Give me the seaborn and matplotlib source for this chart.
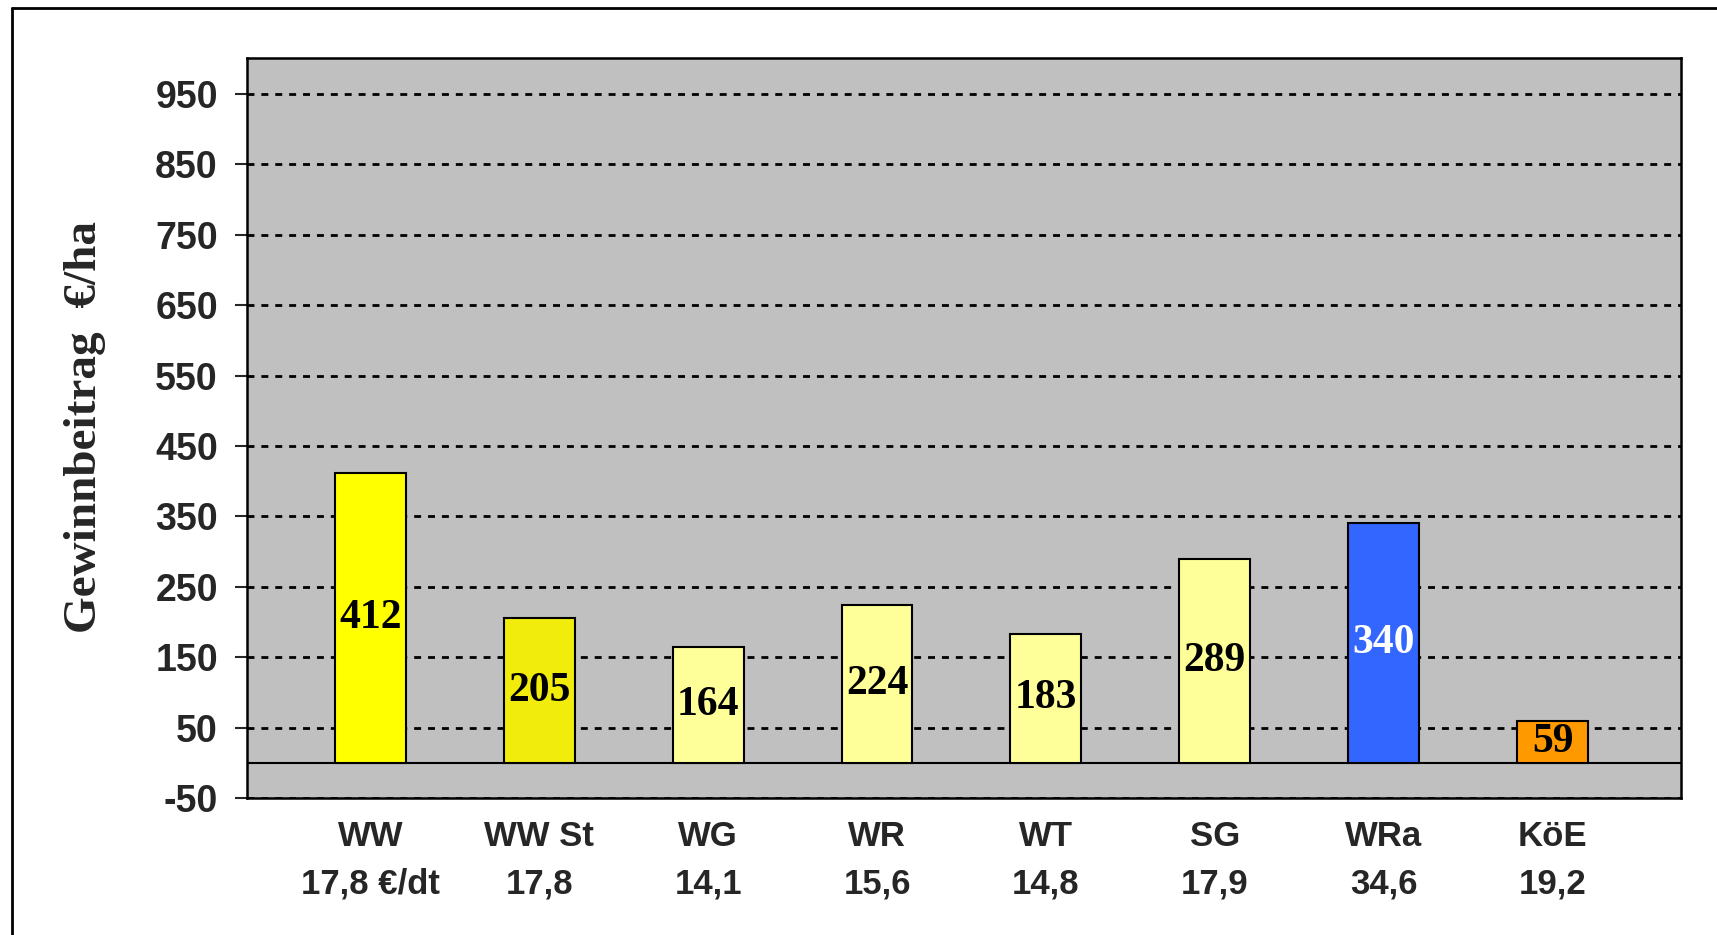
# -*- coding:utf-8 -*-
import matplotlib as mpl
mpl.use("Agg")
import matplotlib.pyplot as plt
import seaborn as sns
from matplotlib.lines import Line2D

crops = ["WW", "WW St", "WG", "WR", "WT", "SG", "WRa", "KöE"]
prices = ["17,8 €/dt", "17,8", "14,1", "15,6", "14,8", "17,9", "34,6", "19,2"]
gewinn = [412, 205, 164, 224, 183, 289, 340, 59]
bar_colors = ["#FFFF00", "#F2EC0C", "#FFFF99", "#FFFF99", "#FFFF99", "#FFFF99", "#3366FF", "#FF9900"]
label_colors = ["black", "black", "black", "black", "black", "black", "white", "black"]
yticks = [-50, 50, 150, 250, 350, 450, 550, 650, 750, 850, 950]

sns.set_style("white")
plt.rcParams["font.family"] = ["Liberation Sans", "DejaVu Sans"]

fig = plt.figure(figsize=(17.17, 9.35), dpi=100)
ax = fig.add_axes([247 / 1717, 1 - 798 / 935, (1681 - 247) / 1717, (798 - 58) / 935])
ax.set_facecolor("#C0C0C0")

sns.barplot(x=crops, y=gewinn, hue=crops, palette=bar_colors, width=0.42, saturation=1,
            edgecolor="black", linewidth=1.5, legend=False, ax=ax, zorder=3)

for cont, col in zip(ax.containers, label_colors):
    ax.bar_label(cont, label_type="center", color=col, fontsize=30,
                 fontweight="bold", family=["Liberation Serif", "DejaVu Serif"])

ax.set_xlim(-0.73, 7.76)
ax.set_ylim(-50, 1001)
ax.set_yticks(yticks)
ax.set_yticklabels([str(t) for t in yticks], fontsize=27, fontweight="bold")
ax.set_xticks(range(len(crops)))
ax.set_xticklabels([c + "\n" + p for c, p in zip(crops, prices)],
                   fontsize=25, fontweight="bold", linespacing=1.55)
ax.tick_params(axis="y", length=9, width=1.5, pad=12, left=True, direction="out")
ax.tick_params(axis="x", length=0, pad=16)

ax.grid(axis="y", color="black", linestyle=(0, (2.5, 2.5)), linewidth=2.0, zorder=1)
ax.set_axisbelow(True)
ax.axhline(0, color="black", linewidth=1.5, zorder=2)
for s in ax.spines.values():
    s.set_color("black")
    s.set_linewidth(1.8)
ax.set_xlabel("")
ax.set_ylabel("")

fig.text(85 / 1717, 1 - 427 / 935, "Gewinnbeitrag  €/ha", rotation=90, ha="center",
         va="center", fontsize=34, fontweight="bold",
         family=["Liberation Serif", "DejaVu Serif"])

# outer frame (only left and top visible in the original)
fig.add_artist(Line2D([12 / 1717, 12 / 1717], [0, 1 - 8 / 935], transform=fig.transFigure,
                      color="black", linewidth=2))
fig.add_artist(Line2D([12 / 1717, 1], [1 - 8 / 935, 1 - 8 / 935], transform=fig.transFigure,
                      color="black", linewidth=2))

fig.savefig("out.png", dpi=100)
